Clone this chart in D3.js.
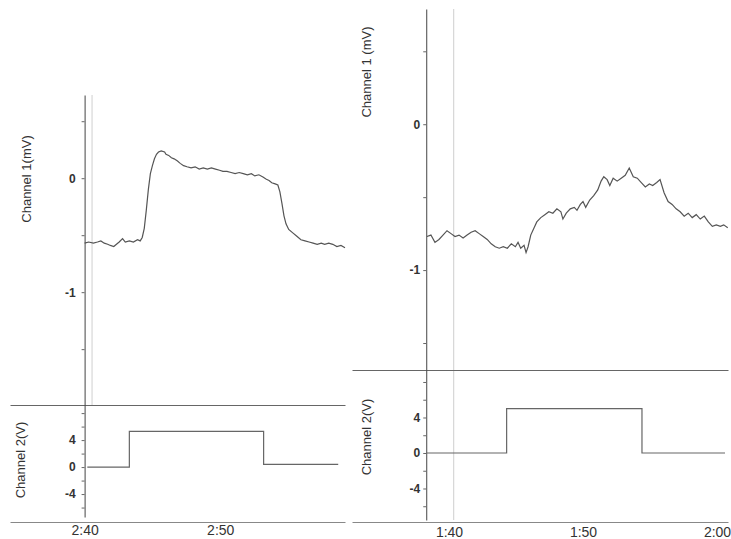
<!DOCTYPE html>
<html>
<head>
<meta charset="utf-8">
<script src="https://cdn.jsdelivr.net/npm/d3@7"></script>
<style>
  body { margin: 0; background: #fff; }
  svg { display: block; font-family: 'Liberation Sans', Arial, sans-serif; }
</style>
</head>
<body>
<div id="chart"></div>
<script>
// left recording, time in seconds (2:40 = 160 s)
const leftTimes = [160.0, 160.3, 160.65, 160.95, 161.2, 161.45, 161.7, 161.9, 162.15, 162.35,
  162.55, 162.8, 163.0, 163.3, 163.6, 163.9, 164.1, 164.25, 164.4, 164.55,
  164.7, 164.85, 165.0, 165.15, 165.3, 165.45, 165.65, 165.9, 166.0, 166.2,
  166.4, 166.6, 166.85, 167.05, 167.3, 167.55, 167.85, 168.15, 168.45, 168.75,
  169.05, 169.35, 169.65, 169.95, 170.2, 170.5, 170.8, 171.1, 171.4, 171.7,
  172.0, 172.3, 172.55, 172.85, 173.15, 173.4, 173.6, 173.8, 174.05, 174.25,
  174.4, 174.55, 174.7, 174.85, 175.05, 175.35, 175.65, 175.95, 176.25, 176.55,
  176.85, 177.15, 177.45, 177.7, 178.0, 178.3, 178.6, 178.9, 179.2];
const leftCh1 = [-0.57, -0.56, -0.57, -0.56, -0.55, -0.57, -0.58, -0.59, -0.6, -0.58,
  -0.56, -0.53, -0.56, -0.55, -0.56, -0.54, -0.55, -0.52, -0.44, -0.28,
  -0.1, 0.04, 0.11, 0.17, 0.21, 0.23, 0.24, 0.23, 0.21, 0.2,
  0.18, 0.17, 0.15, 0.13, 0.11, 0.1, 0.09, 0.1, 0.08, 0.09,
  0.08, 0.09, 0.08, 0.07, 0.06, 0.06, 0.05, 0.04, 0.05, 0.04,
  0.03, 0.04, 0.02, 0.03, 0.01, -0.01, -0.02, -0.04, -0.05, -0.06,
  -0.12, -0.22, -0.33, -0.4, -0.45, -0.48, -0.51, -0.54, -0.55, -0.56,
  -0.57, -0.58, -0.57, -0.58, -0.57, -0.58, -0.6, -0.59, -0.61];
const leftStepTimes = [160.2, 163.3, 163.3, 173.2, 173.2, 178.7];
const leftCh2 = [0, 0, 5.3, 5.3, 0.4, 0.4];
const leftTicks = [160, 170];
const leftCursor = 160.55;

// right recording, time in seconds (1:40 = 100 s)
const rightTimes = [98.35, 98.65, 98.95, 99.25, 99.55, 99.85, 100.15, 100.45, 100.75, 101.05,
  101.35, 101.65, 101.95, 102.25, 102.55, 102.85, 103.15, 103.45, 103.75, 104.05,
  104.35, 104.65, 104.95, 105.15, 105.35, 105.6, 105.75, 105.9, 106.1, 106.35,
  106.55, 106.85, 107.15, 107.45, 107.75, 108.05, 108.35, 108.5, 108.75, 109.05,
  109.35, 109.55, 109.8, 110.0, 110.2, 110.5, 110.8, 111.1, 111.35, 111.55,
  111.8, 112.0, 112.25, 112.55, 112.85, 113.15, 113.45, 113.75, 114.05, 114.35,
  114.65, 114.95, 115.2, 115.5, 115.75, 116.05, 116.35, 116.65, 116.95, 117.25,
  117.55, 117.85, 118.15, 118.45, 118.75, 119.05, 119.35, 119.65, 119.95, 120.25,
  120.5, 120.8];
const rightCh1 = [-0.77, -0.76, -0.81, -0.79, -0.76, -0.73, -0.75, -0.77, -0.76, -0.78,
  -0.76, -0.74, -0.73, -0.75, -0.77, -0.79, -0.82, -0.84, -0.85, -0.84,
  -0.85, -0.82, -0.84, -0.81, -0.85, -0.83, -0.88, -0.84, -0.76, -0.71,
  -0.67, -0.64, -0.62, -0.6, -0.61, -0.58, -0.6, -0.65, -0.61, -0.58,
  -0.57, -0.59, -0.55, -0.53, -0.57, -0.52, -0.49, -0.45, -0.39, -0.36,
  -0.38, -0.42, -0.37, -0.39, -0.37, -0.35, -0.3, -0.36, -0.37, -0.4,
  -0.43, -0.41, -0.42, -0.4, -0.38, -0.47, -0.53, -0.55, -0.58, -0.6,
  -0.63, -0.61, -0.64, -0.62, -0.65, -0.63, -0.67, -0.7, -0.69, -0.7,
  -0.69, -0.71];
const rightStepTimes = [98.3, 104.3, 104.3, 114.4, 114.4, 120.6];
const rightCh2 = [0, 0, 5, 5, 0, 0];
const rightTicks = [100, 110, 120];
const rightCursor = 100.35;

// shared axis ticks
const ch1Ticks = [-1.5, -1, -0.5, 0, 0.5];
const ch1Labels = [-1, 0];
const ch2Ticks = [-6, -4, -2, 0, 2, 4, 6, 8];
const ch2Labels = [-4, 0, 4];

const width = 731;
const height = 539;

const svg = d3.select('#chart')
  .append('svg')
  .attr('width', width)
  .attr('height', height);

const fmtTime = (t) => `${Math.floor(t / 60)}:${String(t % 60).padStart(2, '0')}`;
const zip = (ts, vs) => ts.map((t, i) => [t, vs[i]]);

function drawPanel(p) {
  const g = svg.append('g');

  const x = d3.scaleLinear().domain(p.timeDomain).range(p.xRange);
  const y1 = d3.scaleLinear().domain(p.ch1Domain).range([p.sepY, p.topY]);
  const y2 = d3.scaleLinear().domain(p.ch2Domain).range([p.endY, p.sepY]);
  const axisX = x(p.axisTime);

  // faint cursor line
  g.append('line')
    .attr('x1', x(p.cursor)).attr('x2', x(p.cursor))
    .attr('y1', p.topY).attr('y2', p.cursorEnd)
    .attr('stroke', '#cfcfcf')
    .attr('stroke-width', 1);

  // separator between channels
  g.append('g')
    .attr('transform', `translate(0,${p.sepY})`)
    .call(d3.axisBottom(x).tickValues([]).tickSizeOuter(0))
    .call((s) => s.select('.domain').attr('stroke', '#666'));

  // time axis
  g.append('g')
    .attr('transform', `translate(0,${p.bottomY})`)
    .call(d3.axisBottom(x).tickValues(p.ticks).tickSize(0).tickSizeOuter(0)
      .tickPadding(p.timePad).tickFormat(fmtTime))
    .call((s) => s.select('.domain').attr('stroke', '#888'))
    .call((s) => s.selectAll('text')
      .attr('font-size', 14)
      .attr('fill', '#333')
      .attr('font-family', 'Liberation Sans, Arial, sans-serif'));

  // channel axes
  const styleY = (s) => {
    s.select('.domain').attr('stroke', '#444');
    s.selectAll('line').attr('stroke', '#666');
    s.selectAll('text')
      .attr('font-size', 12)
      .attr('font-weight', 'bold')
      .attr('fill', '#333')
      .attr('font-family', 'Liberation Sans, Arial, sans-serif');
  };
  g.append('g')
    .attr('transform', `translate(${axisX},0)`)
    .call(d3.axisLeft(y1).tickValues(ch1Ticks).tickSize(3).tickSizeOuter(0)
      .tickPadding(p.tickPad).tickFormat((d) => (ch1Labels.includes(d) ? String(d) : '')))
    .call(styleY);
  g.append('g')
    .attr('transform', `translate(${axisX},0)`)
    .call(d3.axisLeft(y2).tickValues(ch2Ticks).tickSize(3).tickSizeOuter(0)
      .tickPadding(p.tickPad).tickFormat((d) => (ch2Labels.includes(d) ? String(d) : '')))
    .call(styleY);

  // axis titles
  [[p.ch1Title, p.ch1TitlePos], [p.ch2Title, p.ch2TitlePos]].forEach(([txt, pos]) => {
    g.append('text')
      .attr('transform', `translate(${pos[0]},${pos[1]}) rotate(-90)`)
      .attr('text-anchor', 'middle')
      .attr('dominant-baseline', 'middle')
      .attr('font-size', 13)
      .attr('fill', '#333')
      .text(txt);
  });

  // traces
  g.append('path')
    .datum(zip(p.times, p.ch1))
    .attr('fill', 'none')
    .attr('stroke', '#555')
    .attr('stroke-width', 1.2)
    .attr('d', d3.line().x((d) => x(d[0])).y((d) => y1(d[1])));

  g.append('path')
    .datum(zip(p.stepTimes, p.ch2))
    .attr('fill', 'none')
    .attr('stroke', '#666')
    .attr('stroke-width', 1.2)
    .attr('d', d3.line().x((d) => x(d[0])).y((d) => y2(d[1])));
}

drawPanel({
  timeDomain: [154.5, 179.2],
  xRange: [10, 345],
  axisTime: 160,
  topY: 95,
  sepY: 405,
  endY: 517,
  bottomY: 522,
  cursorEnd: 405,
  cursor: leftCursor,
  ch1Domain: [-1.99, 0.73],
  ch2Domain: [-7.4, 9.2],
  times: leftTimes,
  ch1: leftCh1,
  stepTimes: leftStepTimes,
  ch2: leftCh2,
  ticks: leftTicks,
  tickPad: 6,
  timePad: 3,
  ch1Title: 'Channel 1(mV)',
  ch1TitlePos: [28, 179],
  ch2Title: 'Channel 2(V)',
  ch2TitlePos: [22, 460],
});

drawPanel({
  timeDomain: [92.76, 120.82],
  xRange: [352, 728],
  axisTime: 98.3,
  topY: 9,
  sepY: 370,
  endY: 520,
  bottomY: 522,
  cursorEnd: 520,
  cursor: rightCursor,
  ch1Domain: [-1.685, 0.79],
  ch2Domain: [-7.55, 9.35],
  times: rightTimes,
  ch1: rightCh1,
  stepTimes: rightStepTimes,
  ch2: rightCh2,
  ticks: rightTicks,
  tickPad: 3,
  timePad: 5,
  ch1Title: 'Channel 1 (mV)',
  ch1TitlePos: [368, 72],
  ch2Title: 'Channel 2(V)',
  ch2TitlePos: [368, 437],
});
</script>
</body>
</html>
